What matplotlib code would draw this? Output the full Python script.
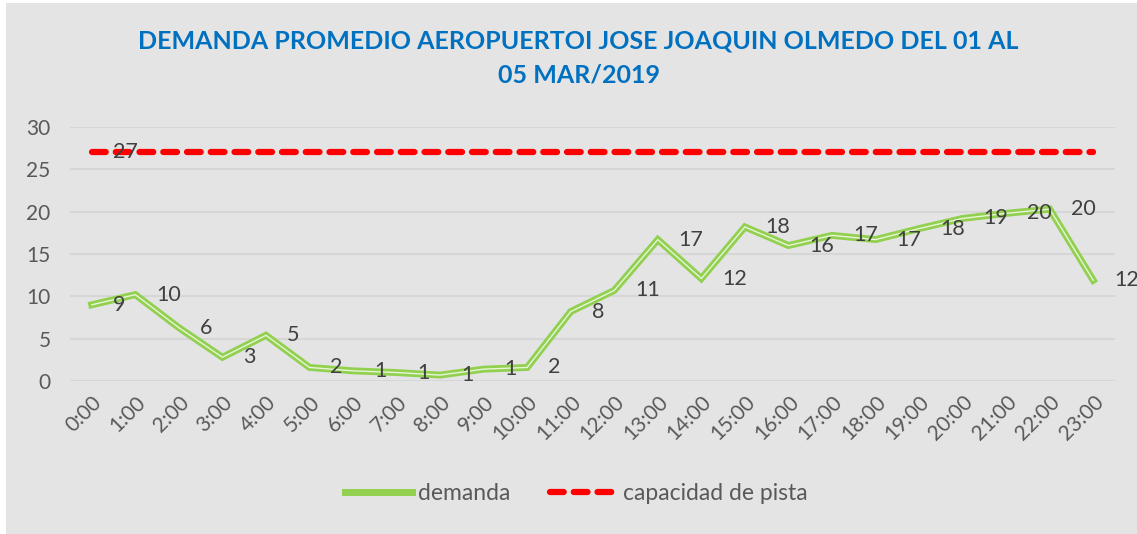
import matplotlib.pyplot as plt
import matplotlib.patches as mpatches
from matplotlib.lines import Line2D

# datos
horas = ['0:00', '1:00', '2:00', '3:00', '4:00', '5:00', '6:00', '7:00', '8:00', '9:00',
         '10:00', '11:00', '12:00', '13:00', '14:00', '15:00', '16:00', '17:00', '18:00',
         '19:00', '20:00', '21:00', '22:00', '23:00']
demanda = [9.0, 10.2, 6.3, 2.8, 5.4, 1.6, 1.2, 1.0, 0.7, 1.4, 1.6, 8.2, 10.7, 16.7,
           12.1, 18.2, 16.0, 17.2, 16.7, 18.0, 19.2, 19.8, 20.3, 11.9]
etiquetas = [9, 10, 6, 3, 5, 2, 1, 1, 1, 1, 2, 8, 11, 17, 12, 18, 16, 17, 17, 18, 19, 20, 20, 12]
capacidad = [27] * 24

titulo = 'DEMANDA PROMEDIO AEROPUERTOI JOSE JOAQUIN OLMEDO DEL 01 AL\n05 MAR/2019'

plt.rcParams['font.family'] = ['Lato', 'DejaVu Sans']
gris = '#595959'
fondo = '#E4E4E4'
verde = '#92D050'

fig = plt.figure(figsize=(11.37, 5.34), dpi=100)
fig.patch.set_facecolor('white')
fig.patches.append(mpatches.Rectangle((6 / 1137, 0), 1, 531 / 534, transform=fig.transFigure,
                                      facecolor=fondo, edgecolor='none', zorder=-10))

ax = fig.add_axes([70 / 1137, 1 - 381 / 534, (1115 - 70) / 1137, (381 - 127) / 534])
ax.set_facecolor(fondo)
x = list(range(len(horas)))

# linea doble (verde con centro claro)
ax.plot(x, demanda, color=verde, lw=5, solid_joinstyle='miter', zorder=3)
ax.plot(x, demanda, color='#E8F5D8', lw=1, zorder=4)
ax.plot(x, capacidad, color='#FF0000', lw=4.5, dashes=(2.2, 1.6), dash_capstyle='round', zorder=3)

for xi, yi, et in zip(x, demanda, etiquetas):
    ax.annotate(str(et), (xi, yi), xytext=(15, 0), textcoords='offset points',
                ha='left', va='center', fontsize=15.5, color='#404040', zorder=5)
ax.annotate(str(capacidad[0]), (x[0], capacidad[0]), xytext=(15, 0), textcoords='offset points',
            ha='left', va='center', fontsize=15.5, color='#404040', zorder=5)

ax.set_xlim(-0.5, 23.5)
ax.set_ylim(0, 30)
ax.set_yticks(range(0, 31, 5))
ax.set_xticks(x)
ax.set_xticklabels(horas, rotation=45, ha='right', rotation_mode='anchor')
ax.tick_params(axis='both', length=0, colors=gris, labelsize=15)
ax.tick_params(axis='y', pad=14)
ax.tick_params(axis='x', pad=8)
ax.grid(axis='y', color='#D6D6D6', lw=1.5)
ax.set_axisbelow(True)
for s in ax.spines.values():
    s.set_visible(False)

fig.text(0.509, 1 - 58 / 534, titulo, ha='center', va='center', fontsize=18, fontweight='bold',
         color='#0070C0', linespacing=1.55)

h1 = Line2D([], [], color=verde, lw=5)
h2 = Line2D([], [], color='#FF0000', lw=4.5, dashes=(2.2, 1.6), dash_capstyle='round')
fig.legend([h1, h2], ['demanda', 'capacidad de pista'], loc='center', bbox_to_anchor=(0.507, 1 - 494 / 534),
           ncol=2, frameon=False, fontsize=16.5, labelcolor=gris, handlelength=2.9, columnspacing=1.7,
           handletextpad=0.3)

fig.savefig('out.png', dpi=100, facecolor=fig.get_facecolor())
